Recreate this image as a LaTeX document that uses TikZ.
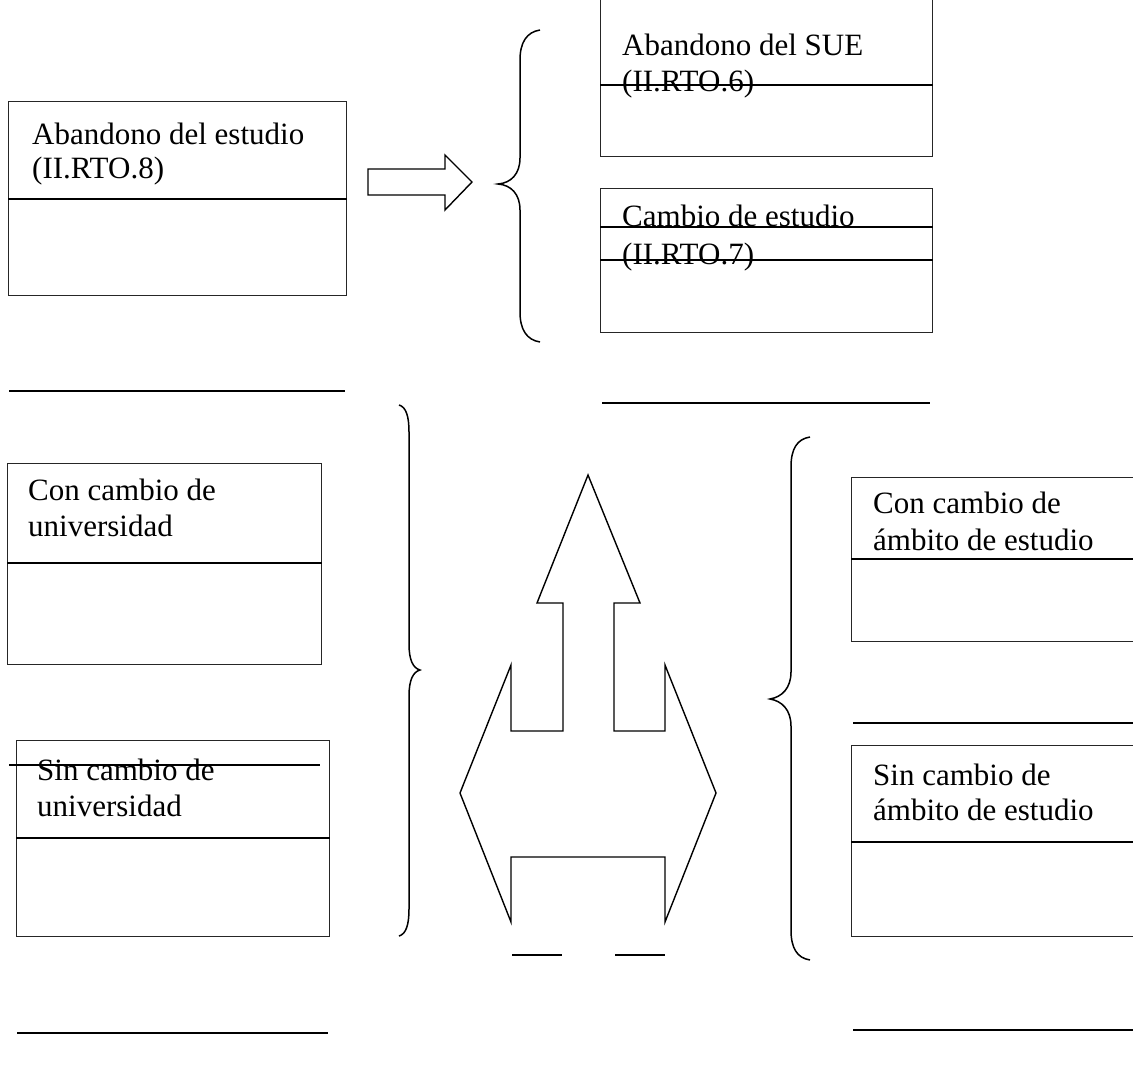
\documentclass[tikz,border=0pt]{standalone}
\usepackage{fontspec}
\setmainfont{Liberation Serif}
\begin{document}
\begin{tikzpicture}[x=1pt,y=-1pt,line join=miter,
  box/.style={draw=black!85,line width=1.4pt,rectangle,inner sep=0pt,anchor=north west},
  txt/.style={anchor=base west,inner sep=0pt,font=\fontsize{31}{35}\selectfont},
  rulel/.style={line width=2.2pt},
  divl/.style={line width=1.3pt},
  blk/.style={line width=1.4pt},
  brc/.style={line width=1.5pt}]
\useasboundingbox (0,0) rectangle (1133,1079);

% boxes
\node[box,minimum width=338pt,minimum height=194pt] (b1) at (8,101) {};
\node[box,minimum width=332pt,minimum height=161pt] (b2) at (600,-5) {};
\node[box,minimum width=332pt,minimum height=144pt] (b3) at (600,188) {};
\node[box,minimum width=314pt,minimum height=201pt] (b4) at (7,463) {};
\node[box,minimum width=313pt,minimum height=196pt] (b5) at (16,740) {};
\node[box,minimum width=320pt,minimum height=164pt] (b6) at (851,477) {};
\node[box,minimum width=320pt,minimum height=191pt] (b7) at (851,745) {};

% texts
\node[txt] (t1a) at (32,144) {Abandono del estudio};
\node[txt] (t1b) at (32,178) {(II.RTO.8)};
\node[txt] (t2a) at (622,55) {Abandono del SUE};
\node[txt] (t2b) at (622,91) {(II.RTO.6)};
\node[txt] (t3a) at (622,226) {Cambio de estudio};
\node[txt] (t3b) at (622,264) {(II.RTO.7)};
\node[txt] (t4a) at (28,500) {Con cambio de};
\node[txt] (t4b) at (28,536) {universidad};
\node[txt] (t5a) at (37,780) {Sin cambio de};
\node[txt] (t5b) at (37,816) {universidad};
\node[txt] (t6a) at (873,513) {Con cambio de};
\node[txt] (t6b) at (873,550) {ámbito de estudio};
\node[txt] (t7a) at (873,785) {Sin cambio de};
\node[txt] (t7b) at (873,820) {ámbito de estudio};

% dividers
\draw[divl] (b1.west |- 0,199) -- (b1.east |- 0,199);
\draw[divl] (b2.west |- 0,85) -- (b2.east |- 0,85);
\draw[divl] (b3.west |- 0,227) -- (b3.east |- 0,227);
\draw[divl] (b3.west |- 0,260) -- (b3.east |- 0,260);
\draw[divl] (b4.west |- 0,563) -- (b4.east |- 0,563);
\draw[divl] (b5.west |- 0,838) -- (b5.east |- 0,838);
\draw[divl] (9,765) -- (320,765);
\draw[divl] (b6.west |- 0,559) -- (b6.east |- 0,559);
\draw[divl] (b7.west |- 0,842) -- (b7.east |- 0,842);

% separator rules
\draw[rulel] (9,391) -- (345,391);
\draw[rulel] (602,403) -- (930,403);
\draw[rulel] (17,1033) -- (328,1033);
\draw[rulel] (853,723) -- (1133,723);
\draw[rulel] (853,1030) -- (1133,1030);
\draw[divl] (512,955) -- (562,955);
\draw[divl] (615,955) -- (665,955);

% block right arrow
\draw[blk] (368,169) -- (445,169) -- (445,155) -- (472,182) -- (445,210) -- (445,195) -- (368,195) -- cycle;

% central up / left-right arrow shape
\draw[blk] (511,922) -- (460,793) -- (511,665) -- (511,731) -- (563,731) -- (563,603)
  -- (537,603) -- (588,475) -- (640,603) -- (614,603) -- (614,731) -- (665,731)
  -- (665,665) -- (716,793) -- (665,922) -- (665,857) -- (511,857) -- cycle;

% braces
\draw[brc] (540,30) .. controls (527,32) and (520,42) .. (520,60) -- (520,158)
  .. controls (520,174) and (511,183) .. (498,184)
  .. controls (511,185) and (520,194) .. (520,210) -- (520,312)
  .. controls (520,330) and (527,340) .. (540,342);
\draw[brc] (399,405) .. controls (406,407) and (409,416) .. (409,432) -- (409,644)
  .. controls (409,660) and (413,668) .. (420,670)
  .. controls (413,672) and (409,680) .. (409,696) -- (409,909)
  .. controls (409,925) and (406,934) .. (399,936);
\draw[brc] (810,437) .. controls (797,439) and (791,449) .. (791,467) -- (791,672)
  .. controls (791,688) and (782,697) .. (770,699)
  .. controls (782,701) and (791,710) .. (791,726) -- (791,930)
  .. controls (791,948) and (797,958) .. (810,960);
\end{tikzpicture}
\end{document}
